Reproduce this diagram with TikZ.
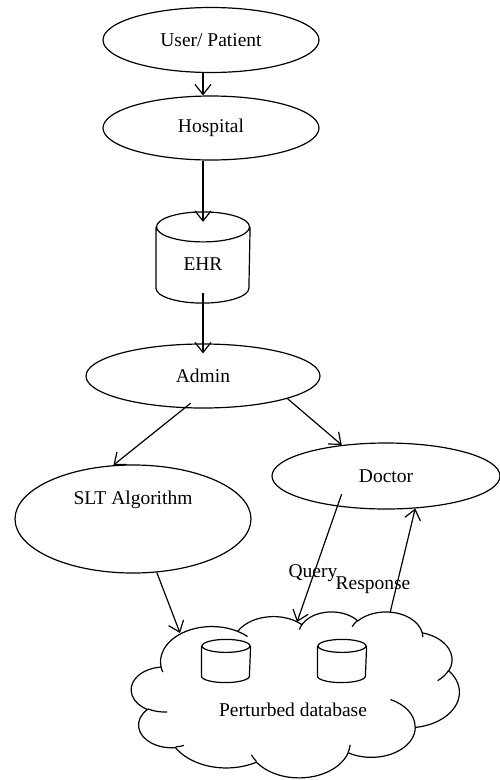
\documentclass[tikz,border=0pt]{standalone}
\usepackage{fontspec}
\setmainfont{Liberation Serif}
\newfontfamily\timesfont{Liberation Serif}
\usetikzlibrary{shapes.geometric,arrows.meta}

\begin{document}
\begin{tikzpicture}
  [x=1pt,y=-1pt,line width=1.2pt,
   every node/.style={font=\timesfont\fontsize{19.5}{22}\selectfont},
   oval/.style={ellipse,draw,inner sep=0pt},
   db/.style={inner sep=0pt},
   arr/.style={-{Straight Barb[length=10pt,width=16pt]}}]
  \useasboundingbox (0,0) rectangle (500,780);

  \node[oval,minimum width=216pt,minimum height=65pt] (user) at (211,40) {User/ Patient};
  \node[oval,minimum width=216pt,minimum height=64pt] (hosp) at (211,128) {Hospital};
  \node[db,minimum width=93pt,minimum height=90pt,
        label={[yshift=-7pt]center:EHR}] (ehr) at (203,257.5) {};
  \node[oval,minimum width=234pt,minimum height=64pt] (admin) at (203,376) {Admin};
  \node[oval,minimum width=236pt,minimum height=108pt,
        label={[yshift=19pt]center:SLT Algorithm}] (slt) at (133,519) {};
  \node[oval,minimum width=228pt,minimum height=66pt] (doctor) at (386,476) {Doctor};

  % perturbed database cloud
  \node[minimum width=328pt,minimum height=166pt,inner sep=0pt] (cloud) at (296,695) {};
  \begin{scope}[shift={(cloud.north west)},x=0.759pt,y=-0.384pt]
    \draw (39,143.7)
      \foreach \w/\h/\s/\d in {67.53/91.90/-190.487/123.781, 53.33/72.67/-144.102/89.945,
          43.65/59.45/-145.808/99.723, 48.57/65.95/-130.986/117.242,
          53.33/72.73/-78.709/109.027, 67.75/92.20/-46.267/130.269,
          57.85/78.67/0.625/114.033, 67.52/92.15/22.452/115.173,
          77.20/105.43/66.243/75.711, 43.60/59.18/-274.942/146.736,
          43.45/59.45/-246.829/152.519}
        { arc[x radius=\w, y radius=\h, start angle={atan2(\w*sin(\s),\h*cos(\s))},
              delta angle={mod(atan2(\w*sin(\s+\d),\h*cos(\s+\d))-atan2(\w*sin(\s),\h*cos(\s))+720,360)}] }
      -- cycle;
    \draw
      \foreach \x/\y/\w/\h/\s/\d in {46.93/261.77/43.45/59.45/86.742/26.430,
          69.28/348.99/43.60/59.18/73.610/11.447, 164.78/390.90/67.52/92.15/137.624/14.081,
          288.27/347.51/67.52/92.15/6.453/15.998, 341.29/229.54/57.85/78.67/-70.292/70.917,
          417.98/153.54/53.33/72.73/30.318/27.752, 383.24/54.26/48.57/65.95/-13.744/14.859,
          290.78/39.52/48.57/65.95/-149.181/18.195, 221.41/47.20/43.65/59.45/-163.494/20.738,
          140.00/51.92/67.53/91.90/-66.707/12.319, 41.27/157.89/67.53/91.90/157.654/11.858}
        { (\x,\y) arc[x radius=\w, y radius=\h, start angle={atan2(\w*sin(\s),\h*cos(\s))},
              delta angle={mod(atan2(\w*sin(\s+\d),\h*cos(\s+\d))-atan2(\w*sin(\s),\h*cos(\s))+720,360)}] };
  \end{scope}
  \node[db,minimum width=48pt,minimum height=42pt] (dba) at (226,661) {};
  \node[db,minimum width=48pt,minimum height=42pt] (dbb) at (342,661) {};
  \node (dblabel) at (293,710) {Perturbed database};

  % database cylinders
  \foreach \cyl/\rx/\ry in {ehr/46.5/15, dba/24/6.5, dbb/24/6.5}
    \draw ([yshift=-\ry pt]\cyl.north) ellipse[x radius=\rx, y radius=\ry]
          ([yshift=-\ry pt]\cyl.north west) -- ([yshift=\ry pt]\cyl.south west)
          arc[start angle=180, end angle=0, x radius=\rx, y radius=\ry]
          -- ([yshift=-\ry pt]\cyl.north east);

  \node (qlabel) at (313,573) {Query};
  \node (rlabel) at (373,585) {Response};

  \draw[arr] ([xshift=-8pt]user.south) -- ([xshift=-8pt]hosp.north);
  \draw[arr,shorten >=-10pt] ([xshift=-8pt]hosp.south) -- (ehr);
  \draw[arr,shorten <=-10pt,shorten >=-10pt] (ehr) -- (admin);
  \draw[arr,shorten <=-8pt] (admin.240) -- (slt.110);
  \draw[arr] (admin.345) -- (doctor.145);
  \draw[arr,shorten <=-13pt] (doctor.212) -- ([shift={(1,-73)}]cloud.center);
  \draw[arr] ([shift={(94,-82)}]cloud.center) -- (doctor.312);
  \draw[arr] (slt.294) -- ([shift={(-116,-62)}]cloud.center);

\end{tikzpicture}
\end{document}
